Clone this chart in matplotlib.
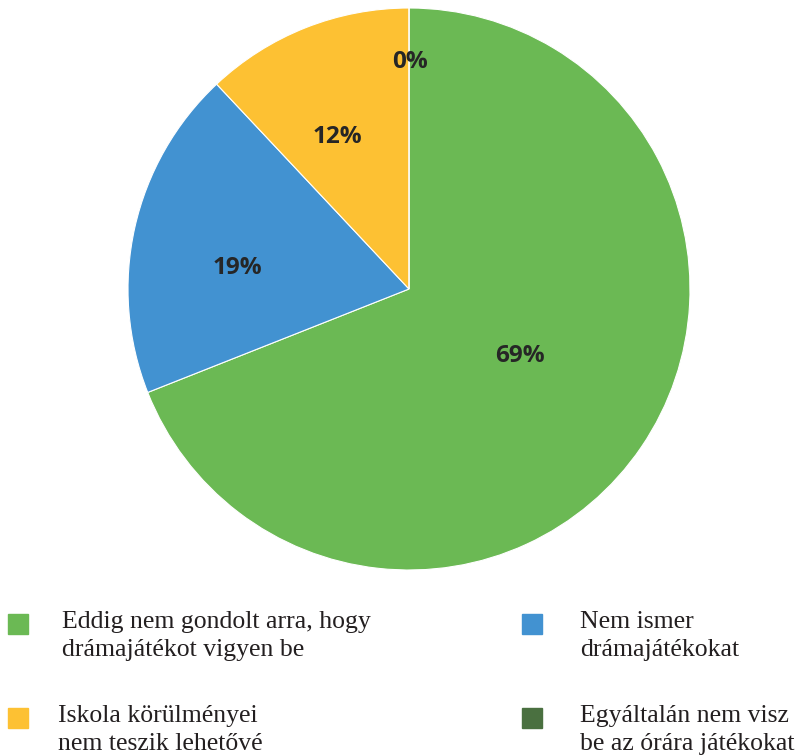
import matplotlib
matplotlib.use("Agg")
import matplotlib.pyplot as plt
from matplotlib.patches import Rectangle

labels = ["Eddig nem gondolt arra, hogy\ndrámajátékot vigyen be",
          "Nem ismer\ndrámajátékokat",
          "Iskola körülményei\nnem teszik lehetővé",
          "Egyáltalán nem visz\nbe az órára játékokat"]
values = [69, 19, 12, 0]
colors = ["#6bb954", "#4292d1", "#fdc133", "#4a7040"]

# label spots (pie radius = 1), as Excel placed them
pct_pos = [(0.395, -0.24), (-0.612, 0.075), (-0.256, 0.541), (0.004, 0.808)]

fig = plt.figure(figsize=(7.96, 7.55), dpi=100)
ax = fig.add_axes([128 / 796, 185 / 755, 562 / 796, 562 / 755])
wedges, texts = ax.pie(values, colors=colors, startangle=90, counterclock=False,
                       radius=1, wedgeprops=dict(edgecolor="white", linewidth=0.8))
ax.set_xlim(-1, 1)
ax.set_ylim(-1, 1)
for v, (x, y) in zip(values, pct_pos):
    ax.text(x, y, "{}%".format(v), ha="center", va="center", fontsize=17.5,
            fontweight="bold", family="Open Sans", color="#262626")

# legend, laid out by hand like the original (2 columns)
legend_spots = [(8, 614, 62), (522, 614, 580), (8, 708, 58), (522, 708, 580)]
for lab, col, (bx, by, tx) in zip(labels, colors, legend_spots):
    fig.patches.append(Rectangle((bx / 796, 1 - (by + 20) / 755), 20 / 796, 20 / 755,
                                 transform=fig.transFigure, color=col))
    fig.text(tx / 796, 1 - (by - 3) / 755, lab, ha="left", va="top", fontsize=18.5,
             family="Liberation Serif", color="#231f20", linespacing=1.38)

fig.savefig("out.png", dpi=100)
